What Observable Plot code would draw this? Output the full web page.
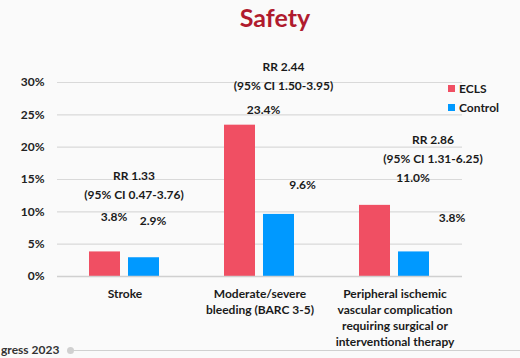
<!DOCTYPE html>
<html>
<head>
<meta charset="utf-8">
<script src="https://cdn.jsdelivr.net/npm/d3@7"></script>
<script src="https://cdn.jsdelivr.net/npm/@observablehq/plot@0.6"></script>
<style>
  html, body { margin: 0; padding: 0; background: #fafafa; }
  #wrap { position: relative; width: 520px; height: 358px; overflow: hidden; background: #fafafa; font-family: Lato, "Open Sans", sans-serif; }
  #chart { position: absolute; left: 0; top: 0; }
  #title { position: absolute; left: 0; width: 550px; top: 2px; text-align: center; font-size: 25px; font-weight: bold; color: #b01b2e; }
  .leg { position: absolute; left: 448px; font-size: 12px; font-weight: bold; color: #1a1a1a; display: flex; align-items: center; }
  .leg i { display: inline-block; width: 7px; height: 7px; margin-right: 4px; }
  #footer { position: absolute; left: 1px; top: 342px; font-size: 12px; font-weight: bold; color: #333; white-space: nowrap; }
  #fline { position: absolute; left: 71px; top: 350px; width: 449px; height: 1px; background: #d0d0d0; }
  #fdot { position: absolute; left: 67px; top: 347px; width: 7px; height: 7px; border-radius: 50%; background: #d0d0d0; }
</style>
</head>
<body>
<div id="wrap">
  <div id="chart"></div>
  <div id="title">Safety</div>
  <div class="leg" style="top:81px"><i style="background:#f04f63"></i>ECLS</div>
  <div class="leg" style="top:100px"><i style="background:#0099ff"></i>Control</div>
  <div id="footer">gress 2023</div>
  <div id="fdot"></div>
  <div id="fline"></div>
</div>
<script>
// ---- data ----
const categories = [
  "Stroke",
  "Moderate/severe\nbleeding (BARC 3-5)",
  "Peripheral ischemic\nvascular complication\nrequiring surgical or\ninterventional therapy"
];
const series = ["ECLS", "Control"];
const eclsValues = [3.8, 23.4, 11.0];
const controlValues = [2.9, 9.6, 3.8];
const eclsLabels = ["3.8%", "23.4%", "11.0%"];
const controlLabels = ["2.9%", "9.6%", "3.8%"];
const rrLabels = ["RR 1.33", "RR 2.44", "RR 2.86"];
const ciLabels = ["(95% CI 0.47-3.76)", "(95% CI 1.50-3.95)", "(95% CI 1.31-6.25)"];
const yTicks = [0, 5, 10, 15, 20, 25, 30];
const colors = ["#f04f63", "#0099ff"];

// annotation anchor heights (in % units, as placed on the slide)
const eclsLabelAt = [9.1, 25.7, 15.2];
const controlLabelAt = [8.5, 14.2, 9.0];
const rrAt = [14.4, 31.3, 20.0];

// ---- tables ----
const rows = [];
categories.forEach((c, i) => {
  rows.push({category: c, series: "ECLS", value: eclsValues[i], label: eclsLabels[i], at: eclsLabelAt[i], g: i});
  rows.push({category: c, series: "Control", value: controlValues[i], label: controlLabels[i], at: controlLabelAt[i], g: i});
});
const notes = categories.map((c, i) => ({category: c, text: rrLabels[i] + "\n" + ciLabels[i], at: rrAt[i], g: i}));

const groupShift = g => 9 + 14.5 * g;

const marks = [
  Plot.ruleY(yTicks, {stroke: "#d9d9d9", strokeWidth: 1.2}),
  Plot.barY(rows, {fx: "category", x: "series", y: "value", fill: "series"}),
  Plot.ruleY([0], {stroke: "#d0d0d0", strokeWidth: 1.5}),
  Plot.axisY({ticks: yTicks, tickFormat: d => d + "%", tickSize: 0, tickPadding: 13, fontSize: 12, fontWeight: "bold", fill: "#222"}),
  Plot.axisFx({anchor: "bottom", tickSize: 0, tickPadding: 10, lineHeight: 1.33, fontSize: 12, fontWeight: "bold", fill: "#1a1a1a", label: null})
];
for (let g = 0; g < categories.length; g++) {
  marks.push(Plot.text(rows.filter(d => d.g === g), {fx: "category", x: "series", y: "at", text: "label", dx: groupShift(g), fontSize: 12, fontWeight: "bold", fill: "#1a1a1a"}));
  marks.push(Plot.text(notes.filter(d => d.g === g), {fx: "category", y: "at", text: "text", frameAnchor: "middle", dx: groupShift(g), lineHeight: 1.6, fontSize: 12, fontWeight: "bold", fill: "#1a1a1a"}));
}

const chart = Plot.plot({
  width: 520,
  height: 358,
  marginLeft: 57,
  marginRight: 58,
  marginTop: 82,
  marginBottom: 82,
  style: {background: "transparent", fontFamily: "Lato, 'Open Sans', sans-serif", fontSize: "12px", overflow: "visible"},
  fx: {domain: categories, padding: 0, axis: null},
  x: {domain: series, paddingInner: 0.205, paddingOuter: 0.833, axis: null},
  y: {domain: [0, 30], axis: null},
  color: {domain: series, range: colors},
  marks
});
document.getElementById("chart").appendChild(chart);
</script>
</body>
</html>
